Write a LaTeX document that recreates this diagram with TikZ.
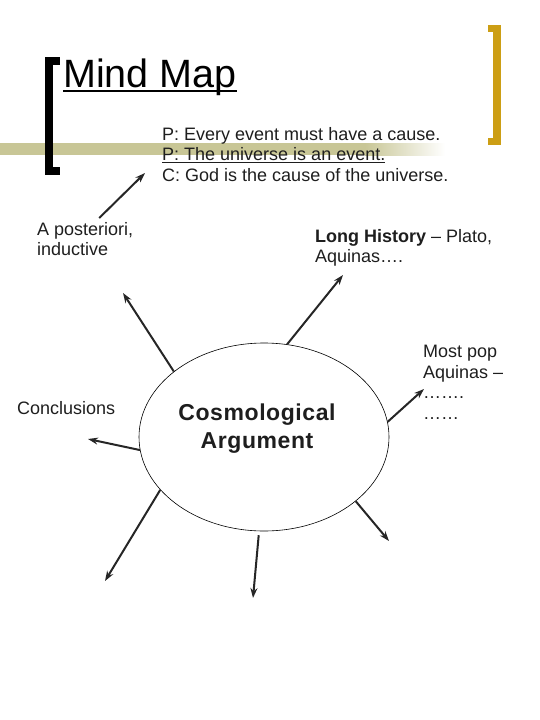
\documentclass[tikz,border=0pt]{standalone}
\usepackage{fontspec}
\setmainfont{Liberation Sans}
\usetikzlibrary{arrows.meta,positioning,shapes.geometric}
\definecolor{Ink}{HTML}{1E1E1E}
\definecolor{Olive}{HTML}{C8C696}
\definecolor{Gold}{HTML}{CC9E14}
\definecolor{Arrow}{HTML}{262626}
\tikzset{
  labelbox/.style={anchor=north west,inner sep=0pt,align=left,font=\fontsize{18}{20.5}\selectfont,text=Ink},
  hubbox/.style={draw=black,ellipse,line width=0.6pt,minimum width=250pt,minimum height=188pt,inner sep=0pt},
  line/.style={-{Stealth[length=10pt,width=7pt]},draw=Arrow,line width=2pt}
}
\begin{document}
\begin{tikzpicture}[x=1pt,y=-1pt]
  \useasboundingbox (0,0) rectangle (540,720);
  % banner bar and brackets
  \fill[Olive] (0,143) rectangle (365,155);
  \shade[left color=Olive,right color=white] (365,143) rectangle (445,155);
  \fill[black] (45,57) rectangle (53,175);
  \fill[black] (45,57) rectangle (60,65);
  \fill[black] (45,167) rectangle (60,175);
  \fill[Gold] (493,25) rectangle (501,145);
  \fill[Gold] (488,25) rectangle (501,32);
  \fill[Gold] (488,138) rectangle (501,145);
  % title
  \node[anchor=base west,inner sep=0pt,font=\fontsize{39.5}{44}\selectfont] (title) at (63,87) {Mind Map};
  \draw[line width=2.5pt] ([yshift=-4pt]title.base west) -- ([yshift=-4pt]title.base east);
  % labels
  \node[labelbox] (prem) at (162,127) {P: Every event must have a cause.\\\underline{P: The universe is an event.}\\C: God is the cause of the universe.};
  \node[labelbox] (apost) at (37,222) {A posteriori,\\inductive};
  \node[labelbox] (hist) at (315,229) {\textbf{Long History} -- Plato,\\Aquinas\dots.};
  \node[labelbox] (pop) at (423,345) {Most pop\\Aquinas --\\…….\\……};
  \node[labelbox] (concl) at (17,401) {Conclusions};
  % centre
  \node[hubbox] (hub) at (264,437) {};
  \node[font=\fontsize{23}{28}\selectfont\bfseries\addfontfeatures{LetterSpace=2.5},align=center,inner sep=0pt,text=Ink] (hubtext) at (257,429) {Cosmological\\Argument};
  % free ends
  \coordinate (premtip) at (145,173);
  \coordinate (ultip) at (123,293);
  \coordinate (histtip) at (343,275);
  \coordinate (poptip) at (424,389);
  \coordinate (lrtip) at (389,541);
  \coordinate (btip) at (253,598);
  \coordinate (lltip) at (105,581);
  \coordinate (concltip) at (88,439);
  % arrows
  \draw[line] ([shift={(14pt,4pt)}]apost.north) -- (premtip);
  \draw[line] (hub.144.5) -- (ultip);
  \draw[line] (hub.76) -- (histtip);
  \draw[line] (hub.7) -- (poptip);
  \draw[line] (hub.-35) -- (lrtip);
  \draw[line,shorten <=4pt] (hub.-93) -- (btip);
  \draw[line] (hub.-153.6) -- (lltip);
  \draw[line] (hub.-174) -- (concltip);
\end{tikzpicture}
\end{document}
